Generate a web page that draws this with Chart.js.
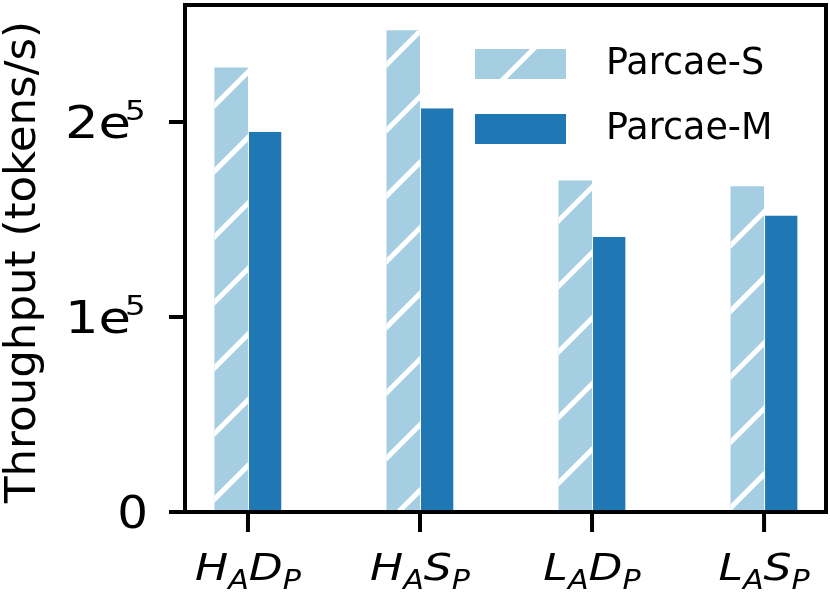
<!DOCTYPE html>
<html>
<head>
<meta charset="utf-8">
<script src="https://cdn.jsdelivr.net/npm/chart.js@4.4.1/dist/chart.umd.min.js"></script>
<style>
  html, body { margin: 0; padding: 0; background: #fff; }
  #wrap { width: 830px; height: 596px; }
</style>
</head>
<body>
<div id="wrap"><canvas id="throughput"></canvas></div>
<script>
// Categories are written as [main, subscript, main, subscript]
const categories = [
  ['H', 'A', 'D', 'P'],
  ['H', 'A', 'S', 'P'],
  ['L', 'A', 'D', 'P'],
  ['L', 'A', 'S', 'P']
];
const seriesNames = ['Parcae-S', 'Parcae-M'];
const parcaeS = [228000, 247000, 170000, 167000];
const parcaeM = [195000, 207000, 141000, 152000];
// y tick labels: [mantissa, exponent]
const yTicks = [0, 100000, 200000];
const yTickLabels = [['0', ''], ['1e', '5'], ['2e', '5']];

const LIGHT = '#a6cee3';
const DARK = '#1f78b4';
const FONT = '"DejaVu Sans", sans-serif';
const MATH_STRETCH = 1.2;   // the math-style labels are drawn a bit wider

// diagonal white hatch, anchored to the canvas like matplotlib's "/"
function drawHatch(ctx, left, top, w, h) {
  const step = 65.6, phase = 320;
  ctx.save();
  ctx.beginPath();
  ctx.rect(left, top, w, h);
  ctx.clip();
  ctx.strokeStyle = '#ffffff';
  ctx.lineWidth = 5;
  const cMin = left + top, cMax = left + w + top + h;
  let k = Math.floor((cMin - phase) / step) - 1;
  for (let c = phase + k * step; c <= cMax + step; c += step) {
    ctx.beginPath();
    ctx.moveTo(left - 20, c - (left - 20));
    ctx.lineTo(left + w + 20, c - (left + w + 20));
    ctx.stroke();
  }
  ctx.restore();
}

// text drawn with a horizontal stretch, x is the left edge
function stretchText(ctx, s, x, y, sx) {
  ctx.save();
  ctx.translate(x, y);
  ctx.scale(sx, 1);
  ctx.fillText(s, 0, 0);
  ctx.restore();
}

const decorPlugin = {
  id: 'decor',
  afterDatasetsDraw(chart) {
    const ctx = chart.ctx;
    // hatch on Parcae-S bars
    chart.getDatasetMeta(0).data.forEach(bar => {
      const p = bar.getProps(['x', 'y', 'base', 'width'], true);
      drawHatch(ctx, p.x - p.width / 2, p.y, p.width, p.base - p.y);
    });
  },
  afterDraw(chart) {
    const ctx = chart.ctx;
    const area = chart.chartArea;
    const xs = chart.scales.x, ys = chart.scales.y;

    ctx.save();
    // frame
    ctx.strokeStyle = '#000';
    ctx.lineWidth = 4;
    ctx.strokeRect(area.left, area.top, area.right - area.left, area.bottom - area.top);

    ctx.fillStyle = '#000';
    ctx.textAlign = 'left';
    ctx.textBaseline = 'alphabetic';

    // y ticks + labels
    yTicks.forEach((v, i) => {
      const py = ys.getPixelForValue(v);
      ctx.beginPath();
      ctx.moveTo(area.left - 16, py);
      ctx.lineTo(area.left, py);
      ctx.stroke();
      const [m, e] = yTickLabels[i];
      ctx.font = '44px ' + FONT;
      if (e) {
        const mw = ctx.measureText(m).width * MATH_STRETCH;
        const x0 = 65;
        stretchText(ctx, m, x0, py + 16, MATH_STRETCH);
        ctx.font = '27px ' + FONT;
        stretchText(ctx, e, x0 + mw - 6, py - 2, MATH_STRETCH);
      } else {
        const sx = 1.1;
        const mw = ctx.measureText(m).width * sx;
        stretchText(ctx, m, 148 - mw, py + 16, sx);
      }
    });

    // x ticks + labels
    categories.forEach((parts, i) => {
      const px = xs.getPixelForValue(i);
      ctx.beginPath();
      ctx.moveTo(px, area.bottom);
      ctx.lineTo(px, area.bottom + 20);
      ctx.stroke();
      const fonts = ['italic 38px ' + FONT, 'italic 26px ' + FONT];
      const sx = 1.16;
      let total = 0;
      const widths = parts.map((s, j) => {
        ctx.font = fonts[j % 2];
        const w = ctx.measureText(s).width * sx;
        total += w;
        return w;
      });
      let x = px - total / 2;
      parts.forEach((s, j) => {
        ctx.font = fonts[j % 2];
        stretchText(ctx, s, x, j % 2 ? 589 : 580, sx);
        x += widths[j];
      });
    });

    // y title
    ctx.save();
    ctx.translate(35, (area.top + area.bottom) / 2 + 3.5);
    ctx.rotate(-Math.PI / 2);
    ctx.font = '43.5px ' + FONT;
    ctx.textAlign = 'center';
    ctx.fillText('Throughput (tokens/s)', 0, 0);
    ctx.restore();

    // legend
    const rows = [
      { top: 49, color: LIGHT, hatch: true },
      { top: 114, color: DARK, hatch: false }
    ];
    rows.forEach((r, i) => {
      ctx.fillStyle = r.color;
      ctx.fillRect(475, r.top, 91, 30);
      if (r.hatch) drawHatch(ctx, 475, r.top, 91, 30);
      ctx.fillStyle = '#000';
      ctx.font = '36.5px ' + FONT;
      ctx.textBaseline = 'middle';
      ctx.fillText(chart.data.datasets[i].label, 606, r.top + 16);
    });
    ctx.restore();
  }
};

new Chart(document.getElementById('throughput'), {
  type: 'bar',
  data: {
    datasets: [
      {
        label: seriesNames[0],
        data: parcaeS.map((v, i) => ({ x: i, y: v })),
        backgroundColor: LIGHT,
        borderWidth: 0
      },
      {
        label: seriesNames[1],
        data: parcaeM.map((v, i) => ({ x: i, y: v })),
        backgroundColor: DARK,
        borderColor: '#ffffff',
        borderWidth: { left: 1, top: 0, right: 0, bottom: 0 },
        borderSkipped: false
      }
    ]
  },
  options: {
    responsive: true,
    maintainAspectRatio: false,
    animation: false,
    layout: { padding: { left: 185, top: 5, right: 4, bottom: 84 } },
    categoryPercentage: 0.39,
    barPercentage: 1,
    plugins: {
      legend: { display: false },
      tooltip: { enabled: false }
    },
    scales: {
      x: {
        type: 'linear', display: false, min: -0.366, max: 3.36, offset: false,
        afterBuildTicks: scale => {
          scale.ticks = categories.map((c, i) => ({ value: i }));
        }
      },
      y: { display: false, min: 0, max: 260000 }
    }
  },
  plugins: [decorPlugin]
});
</script>
</body>
</html>
